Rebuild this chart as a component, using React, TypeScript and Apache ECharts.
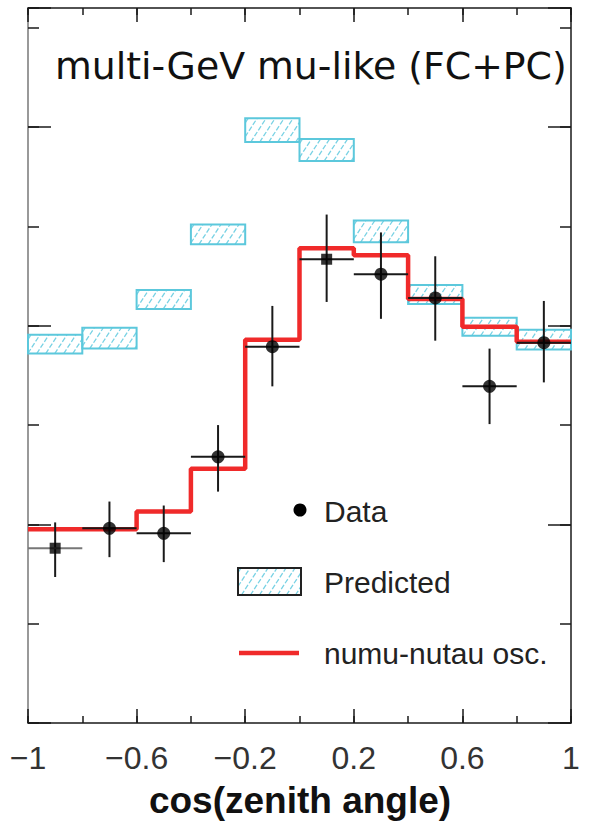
import React, { useEffect, useRef } from "react";
import * as echarts from "echarts";

// ---- data ----
const binEdgesLow = [-1, -0.8, -0.6, -0.4, -0.2, 0, 0.2, 0.4, 0.6, 0.8];
const binEdgesHigh = [-0.8, -0.6, -0.4, -0.2, 0, 0.2, 0.4, 0.6, 0.8, 1];
const binCenters = [-0.9, -0.7, -0.5, -0.3, -0.1, 0.1, 0.3, 0.5, 0.7, 0.9];
const predictedLow = [37.2, 37.7, 41.7, 48.2, 58.5, 56.6, 48.4, 42.2, 39.0, 37.6];
const predictedHigh = [39.1, 39.8, 43.6, 50.2, 60.9, 58.8, 50.6, 44.1, 40.8, 39.6];
const oscValues = [19.5, 19.5, 21.3, 25.6, 38.6, 47.8, 47.1, 42.7, 39.9, 38.4];
const dataValues = [17.6, 19.6, 19.1, 26.8, 37.9, 46.7, 45.2, 42.8, 33.9, 38.3];
const dataErrLow = [14.7, 16.7, 16.2, 23.3, 33.9, 42.4, 40.7, 38.5, 30.1, 34.3];
const dataErrHigh = [20.2, 22.3, 21.9, 30.0, 42.0, 51.2, 49.4, 47.0, 37.7, 42.5];
const xTickLabels = ["\u22121", "\u22120.6", "\u22120.2", "0.2", "0.6", "1"];
const titleText = "multi-GeV mu-like (FC+PC)";
const xAxisTitle = "cos(zenith angle)";
const legendLabels = ["Data", "Predicted", "numu-nutau osc."];

const CYAN = "#5cc8dc";
const HATCH = "#79d2e4";
const RED = "#f02a2a";
const INK = "#1a1a1a";

function hatchSegments(x0: number, y0: number, w: number, h: number) {
  const spacing = 9;
  const slant = 0.65 * h;
  const segs: number[][] = [];
  for (let t = x0 - slant + 3; t < x0 + w; t += spacing) {
    const pmin = Math.max(0, (x0 - t) / slant);
    const pmax = Math.min(1, (x0 + w - t) / slant);
    if (pmax - pmin < 0.02) continue;
    segs.push([
      t + slant * pmin,
      y0 + h - h * pmin,
      t + slant * pmax,
      y0 + h - h * pmax,
    ]);
  }
  return segs;
}

function hatchLines(x0: number, y0: number, w: number, h: number) {
  return hatchSegments(x0, y0, w, h).map((s) => ({
    type: "line",
    shape: { x1: s[0], y1: s[1], x2: s[2], y2: s[3] },
    style: { stroke: HATCH, lineWidth: 1.3, lineDash: [5, 2] },
    silent: true,
  }));
}

export default function App() {
  const ref = useRef<HTMLDivElement>(null);
  useEffect(() => {
    if (!ref.current) return;
    const chart = echarts.init(ref.current, undefined, { renderer: "svg" });

    const predData = binEdgesLow.map((lo, i) => [lo, binEdgesHigh[i], predictedLow[i], predictedHigh[i]]);
    const oscLine: number[][] = [];
    binEdgesLow.forEach((lo, i) => {
      oscLine.push([lo, oscValues[i]]);
      oscLine.push([binEdgesHigh[i], oscValues[i]]);
    });
    const errData = binCenters.map((c, i) => [c, dataValues[i], dataErrLow[i], dataErrHigh[i], binEdgesLow[i], binEdgesHigh[i]]);
    const pointData = binCenters.map((c, i) => [c, dataValues[i]]);

    const gridRect = { left: 28, right: 25, top: 8, bottom: 104 };
    const tickStyle = { color: INK, width: 1.5 };
    const labelFont = { fontFamily: "Liberation Sans", fontSize: 32, color: "#333" };

    const xBase = (grid: number, pos: string, long: boolean, showLine: boolean, labels: boolean) => ({
      type: "value",
      gridIndex: grid,
      position: pos,
      min: long ? 0 : -1,
      max: long ? 2 : 1,
      interval: long ? 0.4 : 0.2,
      axisLine: { show: showLine, onZero: false, lineStyle: { color: INK, width: 1.5 } },
      axisTick: { show: true, inside: true, length: long ? 14 : 7, lineStyle: tickStyle },
      axisLabel: labels
        ? {
            show: true,
            margin: 19,
            ...labelFont,
            formatter: (v: number) => xTickLabels[Math.round(v / 0.4)] ?? "",
          }
        : { show: false },
      splitLine: { show: false },
    });
    const yBase = (grid: number, pos: string, long: boolean, showLine: boolean, lineColor: string) => ({
      type: "value",
      gridIndex: grid,
      position: pos,
      min: 0,
      max: 72,
      interval: long ? 20 : 10,
      axisLine: { show: showLine, onZero: false, lineStyle: { color: lineColor, width: 1.5 } },
      axisTick: { show: true, inside: true, length: long ? 23 : 11, lineStyle: tickStyle },
      axisLabel: { show: false },
      splitLine: { show: false },
    });

    const legendX = 238;
    const legendText = (text: string, y: number) => ({
      type: "text",
      x: 324,
      y,
      style: {
        text,
        fill: "#222",
        font: "30px 'Liberation Sans'",
        align: "left",
        verticalAlign: "middle",
      },
    });

    chart.setOption({
      animation: false,
      backgroundColor: "#ffffff",
      grid: [
        { ...gridRect, containLabel: false },
        { ...gridRect, containLabel: false },
      ],
      xAxis: [
        xBase(0, "bottom", false, true, false),
        xBase(0, "top", false, true, false),
        xBase(1, "bottom", true, false, true),
        xBase(1, "top", true, false, false),
      ],
      yAxis: [
        yBase(0, "left", false, true, "#777"),
        yBase(0, "right", false, true, INK),
        yBase(1, "left", true, false, "#777"),
        yBase(1, "right", true, false, INK),
      ],
      series: [
        {
          type: "custom",
          name: "Predicted",
          xAxisIndex: 0,
          yAxisIndex: 0,
          data: predData,
          encode: { x: [0, 1], y: [2, 3] },
          renderItem: (params: any, api: any) => {
            const p1 = api.coord([api.value(0), api.value(3)]);
            const p2 = api.coord([api.value(1), api.value(2)]);
            const x0 = p1[0];
            const y0 = p1[1];
            const w = p2[0] - p1[0];
            const h = p2[1] - p1[1];
            return {
              type: "group",
              children: [
                ...hatchLines(x0, y0, w, h),
                {
                  type: "rect",
                  shape: { x: x0, y: y0, width: w, height: h },
                  style: { fill: "none", stroke: CYAN, lineWidth: 2 },
                },
              ],
            };
          },
          z: 2,
        },
        {
          type: "line",
          name: "numu-nutau osc.",
          xAxisIndex: 0,
          yAxisIndex: 0,
          data: oscLine,
          showSymbol: false,
          symbol: "none",
          lineStyle: { color: RED, width: 4.5 },
          z: 3,
        },
        {
          type: "custom",
          name: "Data errors",
          xAxisIndex: 0,
          yAxisIndex: 0,
          data: errData,
          encode: { x: [0, 4, 5], y: [1, 2, 3] },
          renderItem: (params: any, api: any) => {
            const c = api.value(0);
            const v = api.value(1);
            const lo = api.coord([c, api.value(2)]);
            const hi = api.coord([c, api.value(3)]);
            const l = api.coord([api.value(4), v]);
            const r = api.coord([api.value(5), v]);
            const hColor = params.dataIndex === 0 ? "#777" : INK;
            return {
              type: "group",
              children: [
                { type: "line", shape: { x1: lo[0], y1: lo[1], x2: hi[0], y2: hi[1] }, style: { stroke: INK, lineWidth: 2 } },
                { type: "line", shape: { x1: l[0], y1: l[1], x2: r[0], y2: r[1] }, style: { stroke: hColor, lineWidth: 2 } },
              ],
            };
          },
          z: 4,
        },
        {
          type: "scatter",
          name: "Data",
          xAxisIndex: 0,
          yAxisIndex: 0,
          data: pointData,
          symbol: (_v: any, p: any) => (p.dataIndex === 0 || p.dataIndex === 5 ? "rect" : "circle"),
          symbolSize: (_v: any, p: any) => (p.dataIndex === 0 || p.dataIndex === 5 ? 11 : 13),
          itemStyle: { color: "#000" },
          z: 5,
        },
      ],
      graphic: [
        {
          type: "text",
          x: 55,
          y: 66,
          style: {
            text: titleText,
            fill: "#111",
            font: "37.8px 'DejaVu Sans'",
            align: "left",
            verticalAlign: "middle",
          },
        },
        {
          type: "text",
          x: 300,
          y: 800,
          style: {
            text: xAxisTitle,
            fill: "#111",
            font: "bold 37px 'Liberation Sans'",
            align: "center",
            verticalAlign: "middle",
          },
        },
        { type: "circle", shape: { cx: 300, cy: 510, r: 6.5 }, style: { fill: "#000" } },
        legendText(legendLabels[0], 511),
        ...hatchLines(legendX, 568, 63, 27),
        { type: "rect", shape: { x: legendX, y: 568, width: 63, height: 27 }, style: { fill: "none", stroke: "#222", lineWidth: 2 } },
        legendText(legendLabels[1], 582),
        { type: "line", shape: { x1: 239, y1: 653, x2: 299, y2: 653 }, style: { stroke: RED, lineWidth: 4.5 } },
        legendText(legendLabels[2], 653),
      ],
    });
    return () => chart.dispose();
  }, []);
  return (
    <div
      ref={ref}
      style={{ position: "fixed", left: 0, top: 0, width: 596, height: 827, background: "#fff" }}
    />
  );
}
